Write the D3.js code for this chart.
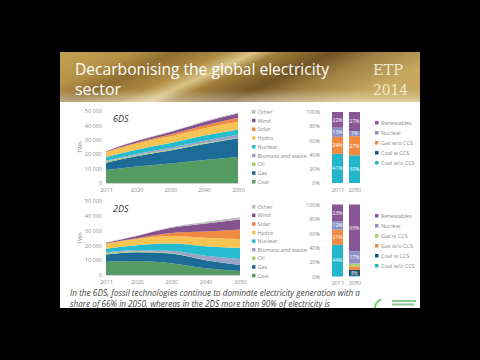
<!DOCTYPE html>
<html><head><meta charset="utf-8">
<script src="https://cdn.jsdelivr.net/npm/d3@7"></script>
<style>html,body{margin:0;padding:0;background:#000;}svg{display:block;}</style>
</head><body>
<svg id="c" width="480" height="360"></svg>
<script>
// ---------- data ----------
const years = [2011, 2020, 2030, 2040, 2050];
const yearTicks = ["2011", "2020", "2030", "2040", "2050"];
const techs = ["Coal", "Gas", "Oil", "Biomass and waste", "Nuclear", "Hydro", "Solar", "Wind", "Other"];
const twhTicks = [0, 10000, 20000, 30000, 40000, 50000];

// 6DS generation (TWh)
const coal6DS    = [9100, 11500, 13500, 15900, 18000];
const gas6DS     = [5000, 7000, 9000, 11200, 13000];
const oil6DS     = [1000, 800, 700, 600, 500];
const biomass6DS = [400, 800, 1200, 1600, 2000];
const nuclear6DS = [2600, 3000, 3300, 3600, 3700];
const hydro6DS   = [3500, 4200, 4700, 5100, 5300];
const solar6DS   = [60, 600, 1200, 2000, 2800];
const wind6DS    = [450, 1200, 1800, 2400, 3000];
const other6DS   = [100, 200, 300, 500, 700];

// 2DS generation (TWh)
const coal2DS    = [9000, 9500, 8000, 4500, 2700];
const gas2DS     = [4800, 5900, 6500, 5500, 4000];
const oil2DS     = [1000, 600, 300, 150, 50];
const biomass2DS = [400, 900, 1600, 2800, 4000];
const nuclear2DS = [2600, 3200, 4800, 6400, 7500];
const hydro2DS   = [3500, 4300, 5200, 5800, 6000];
const solar2DS   = [60, 500, 2000, 4200, 6500];
const wind2DS    = [450, 1500, 3500, 5500, 6800];
const other2DS   = [100, 300, 600, 1000, 1400];

// share bars (%)
const barYears = ["2011", "2050"];
const pctTicks = [0, 20, 40, 60, 80, 100];
const barCats6DS = ["Coal w/o CCS", "Coal w CCS", "Gas w/o CCS", "Nuclear", "Renewables"];
const bar6DS_2011 = [41, 0, 24, 13, 22];
const bar6DS_2050 = [39, 0, 27, 7, 27];
const barCats2DS = ["Coal w/o CCS", "Coal w CCS", "Gas w/o CCS", "Gas w CCS", "Nuclear", "Renewables"];
const bar2DS_2011 = [44, 0, 21, 0, 12, 23];
const bar2DS_2050 = [1, 8, 5, 4, 17, 65];

// ---------- styles ----------
const techColor = {
  "Coal": "#559c62", "Gas": "#1d6b97", "Oil": "#a9cc72", "Biomass and waste": "#9da2c9",
  "Nuclear": "#25bccf", "Hydro": "#f6c453", "Solar": "#ef8a40", "Wind": "#85528f", "Other": "#bdbdbd"
};
const barColor = {
  "Coal w/o CCS": "#22b6cd", "Coal w CCS": "#1a4f72", "Gas w/o CCS": "#ef8a40",
  "Gas w CCS": "#a9cf6a", "Nuclear": "#8d91c6", "Renewables": "#8a5796"
};
const FONT = "'Open Sans', 'Noto Sans', sans-serif";
const GREY = "#8a8a8a";

const svg = d3.select("#c");
svg.append("rect").attr("width", 480).attr("height", 360).attr("fill", "#000");

const defs = svg.append("defs");
const grad = defs.append("linearGradient").attr("id", "gold").attr("x1", 0).attr("x2", 1).attr("y1", 0).attr("y2", 0.3);
[[0, "#c2a150"], [0.18, "#b59347"], [0.3, "#8f6e30"], [0.42, "#ae8c45"], [0.5, "#d9c386"], [0.56, "#a07e3a"],
 [0.7, "#735424"], [0.82, "#a08044"], [1, "#c6a85f"]].forEach(s =>
  grad.append("stop").attr("offset", s[0]).attr("stop-color", s[1]));
const vgrad = defs.append("linearGradient").attr("id", "fade").attr("x1", 0).attr("x2", 0).attr("y1", 0).attr("y2", 1);
vgrad.append("stop").attr("offset", 0.75).attr("stop-color", "#fff").attr("stop-opacity", 0);
vgrad.append("stop").attr("offset", 1).attr("stop-color", "#fff").attr("stop-opacity", 0.4);
defs.append("clipPath").attr("id", "slideClip").append("rect").attr("x", 60).attr("y", 52).attr("width", 360).attr("height", 256);

// slide
const slide = svg.append("g").attr("clip-path", "url(#slideClip)");
slide.append("rect").attr("x", 60).attr("y", 52).attr("width", 360).attr("height", 256).attr("fill", "#fff");
slide.append("rect").attr("x", 60).attr("y", 52).attr("width", 360).attr("height", 50).attr("fill", "url(#gold)");
slide.append("rect").attr("x", 60).attr("y", 52).attr("width", 360).attr("height", 50).attr("fill", "url(#fade)");

slide.append("text").attr("x", 75).attr("y", 75).attr("fill", "#fff").attr("font-family", FONT)
  .attr("font-size", 16).attr("textLength", 254).attr("lengthAdjust", "spacingAndGlyphs")
  .text("Decarbonising the global electricity");
slide.append("text").attr("x", 75).attr("y", 95).attr("fill", "#fff").attr("font-family", FONT)
  .attr("font-size", 16).attr("textLength", 46).attr("lengthAdjust", "spacingAndGlyphs").text("sector");
slide.append("text").attr("x", 373).attr("y", 75).attr("fill", "#f3ead0").attr("font-family", "'DejaVu Serif', serif")
  .attr("font-size", 15).attr("textLength", 30).attr("lengthAdjust", "spacingAndGlyphs").text("ETP");
slide.append("text").attr("x", 373).attr("y", 95).attr("fill", "#f3ead0").attr("font-family", "'DejaVu Serif', serif")
  .attr("font-size", 15).attr("textLength", 35).attr("lengthAdjust", "spacingAndGlyphs").text("2014");

const fmt = d3.formatLocale({decimal: ".", thousands: " ", grouping: [3], currency: ["", ""]}).format(",");

function areaChart(series, o) {
  const g = slide.append("g");
  const x = d3.scaleLinear().domain([years[0], years[years.length - 1]]).range([o.x0, o.x1]);
  const y = d3.scaleLinear().domain([0, 50000]).range([o.y0, o.y1]);
  const rows = years.map((yr, i) => {
    const r = {year: yr};
    techs.forEach((t, k) => r[t] = series[k][i]);
    return r;
  });
  const stack = d3.stack().keys(techs)(rows);
  const area = d3.area().x(d => x(d.data.year)).y0(d => y(d[0])).y1(d => y(d[1])).curve(d3.curveMonotoneX);
  g.selectAll("path.a").data(stack).join("path").attr("class", "a")
    .attr("d", area).attr("fill", d => techColor[d.key]);
  // y axis
  const ya = d3.axisLeft(y).tickValues(twhTicks).tickFormat(d => fmt(d)).tickSize(0).tickPadding(4);
  const yg = g.append("g").attr("transform", `translate(${o.x0},0)`).call(ya);
  yg.select(".domain").remove();
  yg.selectAll("text").attr("font-family", FONT).attr("font-size", 5.5).attr("fill", GREY);
  // x axis
  const xa = d3.axisBottom(x).tickValues(years).tickFormat((d, i) => yearTicks[i]).tickSize(0).tickPadding(5);
  const xg = g.append("g").attr("transform", `translate(0,${o.y0})`).call(xa);
  xg.select(".domain").attr("stroke", "#d0d0d0");
  xg.selectAll("text").attr("font-family", FONT).attr("font-size", 5.5).attr("fill", GREY);
  g.append("text").attr("transform", `translate(${o.x0 - 24},${(o.y0 + o.y1) / 2}) rotate(-90)`)
    .attr("text-anchor", "middle").attr("font-family", FONT).attr("font-size", 5.5).attr("fill", GREY).text("TWh");
  g.append("text").attr("x", o.x0 + 7).attr("y", o.y1 + 11).attr("font-family", FONT).attr("font-style", "italic")
    .attr("font-size", 9).attr("fill", "#333").text(o.label);
  // legend
  const lg = g.append("g");
  techs.slice().reverse().forEach((t, i) => {
    const ly = o.ly + i * o.ls;
    lg.append("rect").attr("x", o.lx).attr("y", ly - 2).attr("width", 3.5).attr("height", 3.5).attr("fill", techColor[t]);
    lg.append("text").attr("x", o.lx + 5.5).attr("y", ly + 1.8).attr("font-family", FONT).attr("font-size", 5.5)
      .attr("fill", GREY).text(t);
  });
}

function barChart(cats, v2011, v2050, o) {
  const g = slide.append("g");
  const x = d3.scalePoint().domain(barYears).range([337.5, 354.5]);
  const y = d3.scaleLinear().domain([0, 100]).range([o.y0, o.y1]);
  const rows = [v2011, v2050].map((v, i) => {
    const r = {year: barYears[i]};
    cats.forEach((c, k) => r[c] = v[k]);
    return r;
  });
  const stack = d3.stack().keys(cats)(rows);
  const bw = 11;
  stack.forEach(s => {
    s.forEach(d => {
      if (d[1] - d[0] <= 0) return;
      g.append("rect").attr("x", x(d.data.year) - bw / 2).attr("y", y(d[1])).attr("width", bw)
        .attr("height", y(d[0]) - y(d[1])).attr("fill", barColor[s.key]);
      if (d[1] - d[0] >= 7) {
        g.append("text").attr("x", x(d.data.year)).attr("y", (y(d[0]) + y(d[1])) / 2 + 1.8)
          .attr("text-anchor", "middle").attr("font-family", FONT).attr("font-size", 5).attr("fill", "#fff")
          .text((d[1] - d[0]) + "%");
      }
    });
  });
  const ya = d3.axisLeft(y).tickValues(pctTicks).tickFormat(d => d + "%").tickSize(0).tickPadding(0);
  const yg = g.append("g").attr("transform", `translate(320,0)`).call(ya);
  yg.select(".domain").remove();
  yg.selectAll("text").attr("font-family", FONT).attr("font-size", 5.5).attr("fill", GREY);
  const xa = d3.axisBottom(x).tickSize(0).tickPadding(5);
  const xg = g.append("g").attr("transform", `translate(0,${o.y0})`).call(xa);
  xg.select(".domain").remove();
  xg.selectAll("text").attr("font-family", FONT).attr("font-size", 5.5).attr("fill", GREY);
  cats.slice().reverse().forEach((c, i) => {
    const ly = o.ly + i * 10;
    g.append("rect").attr("x", 375).attr("y", ly - 2).attr("width", 3.5).attr("height", 3.5).attr("fill", barColor[c]);
    g.append("text").attr("x", 381).attr("y", ly + 1.8).attr("font-family", FONT).attr("font-size", 5.5)
      .attr("fill", GREY).text(c);
  });
}

areaChart([coal6DS, gas6DS, oil6DS, biomass6DS, nuclear6DS, hydro6DS, solar6DS, wind6DS, other6DS],
  {x0: 106, x1: 238, y0: 183, y1: 111, label: "6DS", lx: 252, ly: 112, ls: 8.75});
areaChart([coal2DS, gas2DS, oil2DS, biomass2DS, nuclear2DS, hydro2DS, solar2DS, wind2DS, other2DS],
  {x0: 106, x1: 240, y0: 275, y1: 201, label: "2DS", lx: 252, ly: 207, ls: 8.6});

barChart(barCats6DS, bar6DS_2011, bar6DS_2050, {y0: 183, y1: 112, ly: 123});
barChart(barCats2DS, bar2DS_2011, bar2DS_2050, {y0: 276.5, y1: 204.5, ly: 216});

// caption
slide.append("text").attr("x", 70).attr("y", 296).attr("font-family", FONT).attr("font-style", "italic")
  .attr("font-size", 8.5).attr("fill", "#444").attr("textLength", 290).attr("lengthAdjust", "spacingAndGlyphs")
  .text("In the 6DS, fossil technologies continue to dominate electricity generation with a");
slide.append("text").attr("x", 70).attr("y", 306.5).attr("font-family", FONT).attr("font-style", "italic")
  .attr("font-size", 8.5).attr("fill", "#444").attr("textLength", 260).attr("lengthAdjust", "spacingAndGlyphs")
  .text("share of 66% in 2050, whereas in the 2DS more than 90% of electricity is");

// logo
const arc = d3.arc().innerRadius(8).outerRadius(10).startAngle(-Math.PI * 0.1).endAngle(-Math.PI * 1.0);
slide.append("path").attr("d", arc()).attr("transform", "translate(384,308)").attr("fill", "#7cc47c");
slide.append("rect").attr("x", 392).attr("y", 300).attr("width", 24).attr("height", 2).attr("fill", "#8cc98c");
slide.append("rect").attr("x", 392).attr("y", 303.5).attr("width", 22).attr("height", 2).attr("fill", "#8cc98c");
</script>
</body></html>
